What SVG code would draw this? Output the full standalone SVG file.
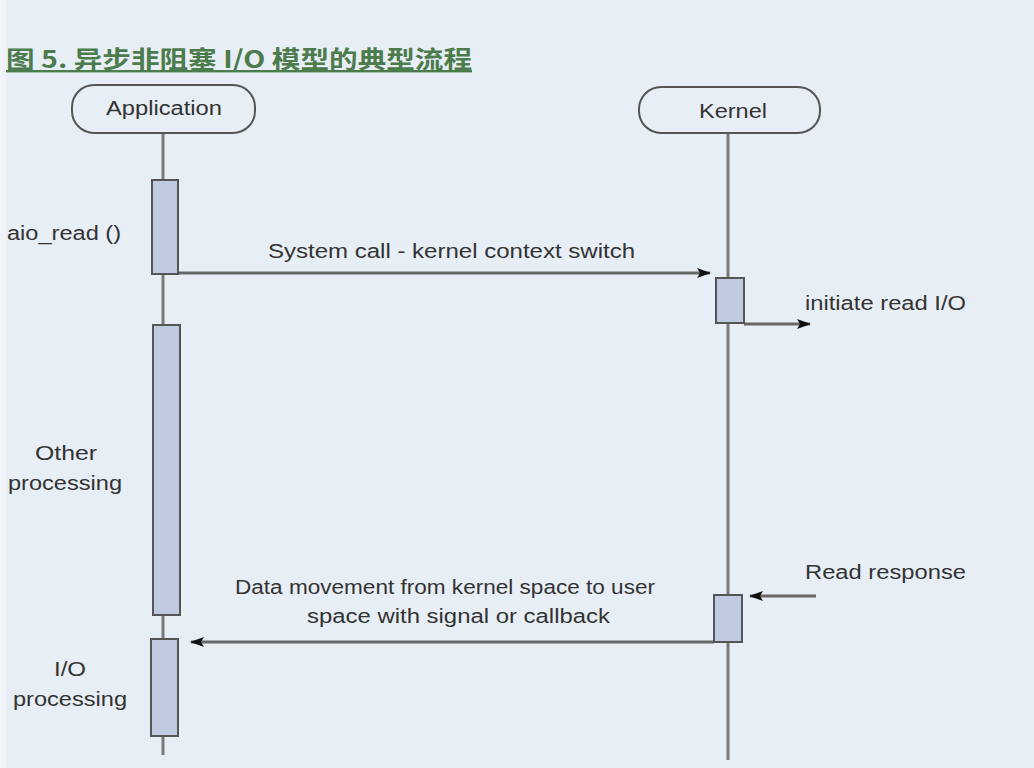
<svg xmlns="http://www.w3.org/2000/svg" width="1034" height="768" viewBox="0 0 1034 768">
<defs>
<marker id="ah" viewBox="0 0 14 10" refX="13" refY="5" markerWidth="14" markerHeight="10" markerUnits="userSpaceOnUse" orient="auto">
<path d="M0,0 L14,5 L0,10 L3,5 Z" fill="#111"/>
</marker>
</defs>
<style>
.t{font-family:"Liberation Sans",Arial,sans-serif;font-size:20px;fill:#333}
.life{stroke:#7a7a7a;stroke-width:3;fill:none}
.bar{fill:#c0cbe2;stroke:#555;stroke-width:2}
.head{fill:none;stroke:#555;stroke-width:2}
.msg{stroke:#666;stroke-width:3;fill:none}
</style>
<rect x="0" y="0" width="1034" height="768" fill="#e8eef5"/>
<rect x="0" y="0" width="6" height="768" fill="#f0f4f8"/>
<text x="6" y="68" font-family="'Noto Sans CJK SC','Liberation Sans',sans-serif" font-size="24" font-weight="bold" fill="#4c7b4c" text-decoration="underline" textLength="466" lengthAdjust="spacingAndGlyphs">图 5. 异步非阻塞 I/O 模型的典型流程</text>
<g id="connectors">
<line class="life" x1="163" y1="133" x2="163" y2="755"/>
<line class="life" x1="728" y1="133" x2="728" y2="760"/>
<line class="msg" x1="178" y1="273" x2="710" y2="273" marker-end="url(#ah)"/>
<line class="msg" x1="744" y1="324" x2="810" y2="324" marker-end="url(#ah)"/>
<line class="msg" x1="816" y1="596" x2="750" y2="596" marker-end="url(#ah)"/>
<line class="msg" x1="714" y1="642" x2="191" y2="642" marker-end="url(#ah)"/>
</g>
<g id="application">
<rect class="head" x="72" y="85" width="183" height="48" rx="22" ry="22"/>
<text class="t" x="106" y="115" textLength="116" lengthAdjust="spacingAndGlyphs">Application</text>
</g>
<g id="kernel">
<rect class="head" x="639" y="87" width="181" height="46" rx="22" ry="22"/>
<text class="t" x="699" y="118" textLength="68" lengthAdjust="spacingAndGlyphs">Kernel</text>
</g>
<g id="app-bar1"><rect class="bar" x="152" y="180" width="26" height="94"/></g>
<g id="app-bar2"><rect class="bar" x="153" y="325" width="27" height="290"/></g>
<g id="app-bar3"><rect class="bar" x="151" y="639" width="27" height="97"/></g>
<g id="kernel-bar1"><rect class="bar" x="716" y="278" width="28" height="45"/></g>
<g id="kernel-bar2"><rect class="bar" x="714" y="595" width="28" height="47"/></g>
<g id="labels">
<text class="t" x="7" y="240" textLength="114" lengthAdjust="spacingAndGlyphs">aio_read ()</text>
<text class="t" x="268" y="258" textLength="367" lengthAdjust="spacingAndGlyphs">System call - kernel context switch</text>
<text class="t" x="805" y="310" textLength="161" lengthAdjust="spacingAndGlyphs">initiate read I/O</text>
<text class="t" x="35" y="460" textLength="62" lengthAdjust="spacingAndGlyphs">Other</text>
<text class="t" x="8" y="490" textLength="114" lengthAdjust="spacingAndGlyphs">processing</text>
<text class="t" x="805" y="579" textLength="161" lengthAdjust="spacingAndGlyphs">Read response</text>
<text class="t" x="235" y="594" textLength="420" lengthAdjust="spacingAndGlyphs">Data movement from kernel space to user</text>
<text class="t" x="307" y="623" textLength="303" lengthAdjust="spacingAndGlyphs">space with signal or callback</text>
<text class="t" x="54" y="676" textLength="32" lengthAdjust="spacingAndGlyphs">I/O</text>
<text class="t" x="13" y="706" textLength="114" lengthAdjust="spacingAndGlyphs">processing</text>
</g>
</svg>
